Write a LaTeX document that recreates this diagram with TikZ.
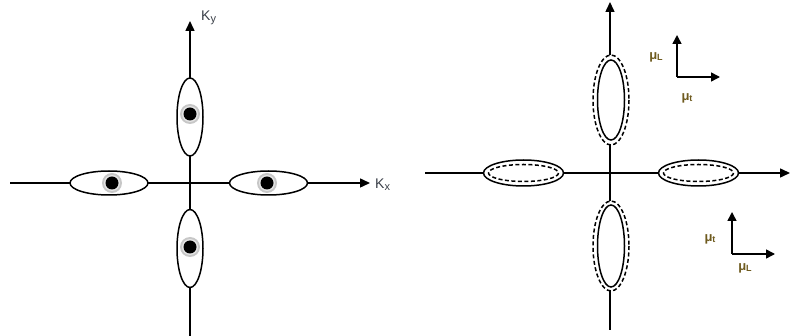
\documentclass[tikz,border=0pt]{standalone}
\usepackage{fontspec}
\setmainfont{Liberation Sans}
\usetikzlibrary{arrows.meta}
\definecolor{klab}{HTML}{3A3F48}
\definecolor{mulab}{HTML}{6E5A1E}
\tikzset{
  axis/.style={line width=1.5pt, -{Triangle[length=10pt,width=9pt]}},
  plainaxis/.style={line width=1.5pt},
  dashell/.style={draw, line width=1.5pt, dash pattern=on 4pt off 2.5pt},
  klabel/.style={text=klab, font=\fontsize{14}{15}\selectfont, inner sep=0pt},
  mulabel/.style={text=mulab, font=\bfseries\fontsize{13}{14}\selectfont, inner sep=0pt},
  smallaxis/.style={line width=1.5pt, -{Triangle[length=9pt,width=9pt]}},
}
\newcommand{\halo}[1]{%
  \fill[black!22] (#1) circle (10pt);
  \fill[black!10] (#1) circle (8pt);
  \fill[black] (#1) circle (6.5pt);
}
\begin{document}
\begin{tikzpicture}[x=1pt,y=-1pt]
\useasboundingbox (0,0) rectangle (790,336);
% ---------- left diagram ----------
\coordinate (lxs) at (10,183);
\coordinate (lxe) at (370,183);
\coordinate (lys) at (190,336);
\coordinate (lye) at (190,21);
\draw[plainaxis] (lxs) -- (109,183);
\draw[axis] (109,183) -- (lxe);
\draw[plainaxis] (lys) -- (190,248);
\draw[axis] (190,248) -- (lye);
\node[klabel, anchor=base west] (kx) at (375,189) {K\raisebox{-0.25ex}{\fontsize{11}{12}\selectfont x}};
\node[klabel, anchor=base west] (ky) at (201,21) {K\raisebox{-0.25ex}{\fontsize{11}{12}\selectfont y}};
% ellipses
\filldraw[fill=white, line width=1.5pt] (109,183) ellipse (39 and 12);
\filldraw[fill=white, line width=1.5pt] (268.5,183) ellipse (39 and 12);
\filldraw[fill=white, line width=1.5pt] (190,117) ellipse (13 and 39);
\filldraw[fill=white, line width=1.5pt] (190,248.5) ellipse (13 and 39);
\halo{112,183}
\halo{267,183}
\halo{190,114}
\halo{190,247}
% ---------- right diagram ----------
\draw[plainaxis] (425,173) -- (523,173);
\draw[axis] (523,173) -- (790,173);
\draw[plainaxis] (610,330) -- (610,246);
\draw[axis] (610,246) -- (610,2);
\filldraw[fill=white, line width=1.5pt] (523.5,173) ellipse (40 and 13);
\draw[dashell] (523.5,173) ellipse (35 and 8.5);
\filldraw[fill=white, line width=1.5pt] (698.5,173) ellipse (40 and 13);
\draw[dashell] (698.5,173) ellipse (35 and 8.5);
\draw[dashell, fill=white] (611,100) ellipse (18 and 45);
\draw[line width=1.5pt] (611,100) ellipse (13.5 and 40);
\draw[dashell, fill=white] (611,246) ellipse (18 and 45);
\draw[line width=1.5pt] (611,246) ellipse (13.5 and 41);
% small frames
\coordinate (c1) at (677,77);
\draw[smallaxis] (c1) -- (677,35);
\draw[smallaxis] (c1) -- (720,77);
\node[mulabel] (m1) at (656,57) {μ\raisebox{-0.2ex}{\fontsize{9}{10}\selectfont L}};
\node[mulabel] (m2) at (687,98) {μ\raisebox{-0.2ex}{\fontsize{9}{10}\selectfont t}};
\coordinate (c2) at (732,254);
\draw[smallaxis] (c2) -- (732,212);
\draw[smallaxis] (c2) -- (775,254);
\node[mulabel] (m3) at (710,239) {μ\raisebox{-0.2ex}{\fontsize{9}{10}\selectfont t}};
\node[mulabel] (m4) at (745,268) {μ\raisebox{-0.2ex}{\fontsize{9}{10}\selectfont L}};
\end{tikzpicture}
\end{document}
